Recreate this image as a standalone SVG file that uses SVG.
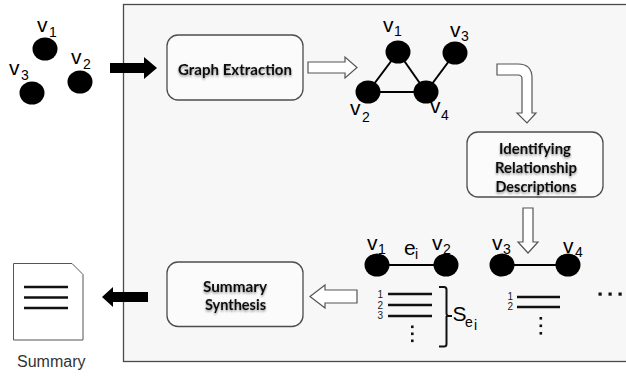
<svg xmlns="http://www.w3.org/2000/svg" width="626" height="376" viewBox="0 0 626 376">
  <defs>
    <filter id="tshadow" x="-10%" y="-30%" width="120%" height="170%">
      <feDropShadow dx="0" dy="1.5" stdDeviation="1" flood-color="#000" flood-opacity="0.45"/>
    </filter>
  </defs>
  <style>
    .panel { fill: #f7f7f7; stroke: #4a4a4a; stroke-width: 1.3; }
    .box { fill: #fbfbfb; stroke: #4d4d4d; stroke-width: 1.3; }
    .btxt { font-family: Lato, "Open Sans", sans-serif; font-weight: 700; font-size: 15.5px; text-anchor: middle; fill: #111; filter: url(#tshadow); }
    .node { fill: #000; }
    .edge { stroke: #000; stroke-width: 2; fill: none; }
    .lbl { font-family: "Liberation Sans", Arial, sans-serif; font-size: 21px; fill: #000; }
    .sub { font-family: "Liberation Sans", Arial, sans-serif; font-size: 14px; fill: #000; }
    .num { font-family: "Liberation Sans", Arial, sans-serif; font-size: 10px; fill: #222; }
    .rule { stroke: #111; stroke-width: 2.5; }
    .dot { fill: #111; }
    .hollow { fill: #fff; stroke: #555; stroke-width: 1.2; stroke-linejoin: miter; }
    .solid { fill: #000; }
    .doc { fill: #fff; stroke: #555; stroke-width: 1; }
    .cap { font-family: "Liberation Sans", Arial, sans-serif; font-size: 16px; fill: #333; }
  </style>

  <!-- processing panel -->
  <rect class="panel" x="123.5" y="4.5" width="520" height="357"/>

  <!-- input vertices -->
  <g id="input-nodes">
    <ellipse class="node" cx="45" cy="49" rx="12.5" ry="11.5"/>
    <ellipse class="node" cx="80" cy="82" rx="12.5" ry="11.5"/>
    <ellipse class="node" cx="32" cy="93" rx="12.5" ry="11.5"/>
    <text class="lbl" x="37" y="32">v</text><text class="sub" x="49" y="37">1</text>
    <text class="lbl" x="71" y="64">v</text><text class="sub" x="83" y="69">2</text>
    <text class="lbl" x="9" y="75">v</text><text class="sub" x="21" y="80">3</text>
  </g>

  <g id="graph-extraction">
    <rect class="box" x="167" y="35" width="136" height="65" rx="11"/>
    <text class="btxt" x="235" y="75" textLength="114" lengthAdjust="spacingAndGlyphs">Graph Extraction</text>
  </g>

  <!-- extracted graph -->
  <g id="graph">
    <line class="edge" x1="398" y1="52" x2="368" y2="92"/>
    <line class="edge" x1="398" y1="52" x2="426" y2="92"/>
    <line class="edge" x1="368" y1="92" x2="426" y2="92"/>
    <line class="edge" x1="426" y1="92" x2="455" y2="53"/>
    <ellipse class="node" cx="398" cy="52" rx="12.5" ry="11.5"/>
    <ellipse class="node" cx="455" cy="53" rx="12.5" ry="11.5"/>
    <ellipse class="node" cx="368" cy="92" rx="12.5" ry="11.5"/>
    <ellipse class="node" cx="426" cy="92" rx="12.5" ry="11.5"/>
    <text class="lbl" x="383" y="32">v</text><text class="sub" x="394" y="36">1</text>
    <text class="lbl" x="450" y="37">v</text><text class="sub" x="461" y="41">3</text>
    <text class="lbl" x="350" y="115">v</text><text class="sub" x="362" y="122">2</text>
    <text class="lbl" x="430" y="113">v</text><text class="sub" x="441" y="120">4</text>
  </g>

  <g id="identifying-relationships">
    <rect class="box" x="467" y="132" width="136" height="65" rx="11"/>
    <text class="btxt" x="535" y="154" textLength="72" lengthAdjust="spacingAndGlyphs">Identifying</text>
    <text class="btxt" x="536" y="173" textLength="82" lengthAdjust="spacingAndGlyphs">Relationship</text>
    <text class="btxt" x="536" y="192" textLength="81" lengthAdjust="spacingAndGlyphs">Descriptions</text>
  </g>

  <!-- edge e_i with its sentence list S_ei -->
  <g id="edge-v1-v2">
    <line class="edge" x1="377" y1="265" x2="446" y2="265" stroke-width="1.6"/>
    <ellipse class="node" cx="377" cy="265" rx="12.5" ry="11.5"/>
    <ellipse class="node" cx="446" cy="265" rx="12.5" ry="11.5"/>
    <text class="lbl" x="367" y="250">v</text><text class="sub" x="378" y="254">1</text>
    <text class="lbl" x="404" y="255" font-size="16">e</text><text class="sub" x="415" y="259" font-size="9">i</text>
    <text class="lbl" x="432" y="250">v</text><text class="sub" x="443" y="254">2</text>
    <text class="num" x="377.5" y="298">1</text>
    <text class="num" x="377.5" y="308.5">2</text>
    <text class="num" x="377.5" y="319">3</text>
    <line class="rule" x1="388" y1="294" x2="432" y2="294"/>
    <line class="rule" x1="388" y1="305" x2="432" y2="305"/>
    <line class="rule" x1="388" y1="316" x2="432" y2="316"/>
    <rect class="dot" x="411" y="325.5" width="2.6" height="2.6"/>
    <rect class="dot" x="411" y="332.5" width="2.6" height="2.6"/>
    <rect class="dot" x="411" y="339.5" width="2.6" height="2.6"/>
    <path d="M439,287 L444,287 Q446.5,287 446.5,289.5 L446.5,313.5 Q446.5,316 449,316 L452,316 M446.5,316 L446.5,344 Q446.5,346.5 444,346.5 L439,346.5" fill="none" stroke="#111" stroke-width="2"/>
    <text class="lbl" x="452.5" y="321" font-size="17">S</text>
    <text class="sub" x="465" y="327" font-size="12">e</text>
    <text class="sub" x="474" y="330" font-size="9">i</text>
  </g>

  <g id="edge-v3-v4">
    <line class="edge" x1="502" y1="265" x2="568" y2="265" stroke-width="1.6"/>
    <ellipse class="node" cx="502" cy="265" rx="12.5" ry="11.5"/>
    <ellipse class="node" cx="568" cy="265" rx="12.5" ry="11.5"/>
    <text class="lbl" x="492" y="250">v</text><text class="sub" x="503" y="254">3</text>
    <text class="lbl" x="563" y="253">v</text><text class="sub" x="575" y="257">4</text>
    <text class="num" x="507.5" y="299.5">1</text>
    <text class="num" x="507.5" y="310">2</text>
    <line class="rule" x1="517" y1="297" x2="560" y2="297"/>
    <line class="rule" x1="517" y1="307" x2="560" y2="307"/>
    <rect class="dot" x="539.5" y="317" width="2.6" height="2.6"/>
    <rect class="dot" x="539.5" y="324.5" width="2.6" height="2.6"/>
    <rect class="dot" x="539.5" y="332" width="2.6" height="2.6"/>
  </g>

  <g id="more-edges">
    <rect class="dot" x="598.5" y="292.5" width="3.2" height="3.2"/>
    <rect class="dot" x="608.5" y="292.5" width="3.2" height="3.2"/>
    <rect class="dot" x="618.5" y="292.5" width="3.2" height="3.2"/>
  </g>

  <g id="summary-synthesis">
    <rect class="box" x="167" y="262" width="136" height="64.5" rx="11"/>
    <text class="btxt" x="235" y="292" textLength="64" lengthAdjust="spacingAndGlyphs">Summary</text>
    <text class="btxt" x="235.5" y="310" textLength="61" lengthAdjust="spacingAndGlyphs">Synthesis</text>
  </g>

  <g id="summary-document">
    <path class="doc" d="M13.5,263.5 L72,263.5 L83,274.5 L83,340 L13.5,340 Z"/>
    <line class="rule" x1="24" y1="287" x2="68" y2="287"/>
    <line class="rule" x1="24" y1="297.5" x2="68" y2="297.5"/>
    <line class="rule" x1="24" y1="308" x2="68" y2="308"/>
    <text class="cap" x="17" y="367">Summary</text>
  </g>

  <!-- connectors: block arrows between stages -->
  <g id="connectors">
    <polygon class="solid" points="110,63 144,63 144,57 157,68 144,79 144,73 110,73"/>
    <polygon class="hollow" points="308,62 345,62 345,57 357,67.5 345,78 345,73 308,73"/>
    <path class="hollow" d="M497,64 L518,64 Q532,64 532,78 L532,113 L536,113 L527,123 L517,113 L522,113 L522,79 Q522,75 518,75 L497,75 Z"/>
    <polygon class="hollow" points="523,208 533,208 533,242 538,242 528,253 518,242 523,242"/>
    <polygon class="hollow" points="357,290 325,290 325,285 310,296.5 325,308 325,303 357,303"/>
    <polygon class="solid" points="148,292 113,292 113,287 102,297 113,307 113,302 148,302"/>
  </g>
</svg>
